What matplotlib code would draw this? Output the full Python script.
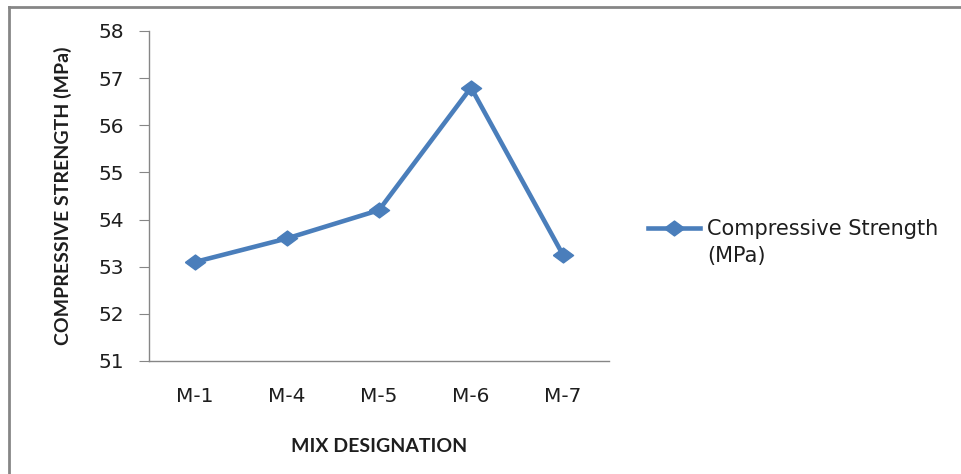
import matplotlib
matplotlib.use('Agg')
import matplotlib.pyplot as plt
from matplotlib.lines import Line2D

mixes = ['M-1', 'M-4', 'M-5', 'M-6', 'M-7']
strength = [53.1, 53.6, 54.2, 56.8, 53.25]
y_ticks = [51, 52, 53, 54, 55, 56, 57, 58]
series_name = 'Compressive Strength'
series_unit = '(MPa)'

plt.rcParams['font.family'] = ['DejaVu Sans']

W, H = 961, 474
fig = plt.figure(figsize=(W / 100, H / 100), dpi=100)
ax = fig.add_axes([149 / W, 1 - 361 / H, (609 - 149) / W, (361 - 31) / H])

blue = '#4a7ebb'
grey = '#868686'
txt = '#1e1e1e'
# wide diamond like the Excel marker in the reference
diamond = [(-1.35, 0), (0, 1), (1.35, 0), (0, -1), (-1.35, 0)]

ax.plot(range(len(mixes)), strength, color=blue, lw=3.3, marker=diamond,
        markersize=14.5, label=series_name)

ax.set_xlim(-0.5, len(mixes) - 0.5)
ax.set_ylim(51, 58)
ax.set_yticks(y_ticks)
ax.set_xticks(range(len(mixes)))
ax.set_xticklabels(mixes)

for side in ['top', 'right']:
    ax.spines[side].set_visible(False)
for side in ['left', 'bottom']:
    ax.spines[side].set_color(grey)
    ax.spines[side].set_linewidth(1)

ax.tick_params(axis='y', direction='out', length=7, color=grey,
               labelsize=14.5, pad=11, labelcolor=txt)
ax.tick_params(axis='x', length=0, labelsize=14.5, pad=19,
               labelcolor=txt)

ax.set_xlabel('MIX DESIGNATION', fontsize=14, fontweight='bold',
              family=['Lato', 'DejaVu Sans'], color=txt, labelpad=23)
ax.set_ylabel('COMPRESSIVE STRENGTH (MPa)', fontsize=14,
              fontweight='bold', family=['Lato', 'DejaVu Sans'],
              color=txt, labelpad=19)

leg = fig.legend(loc='center left', bbox_to_anchor=(648 / W, 1 - 229 / H),
                 frameon=False, fontsize=15, handlelength=2.5,
                 handletextpad=0.33, borderpad=0, borderaxespad=0,
                 labelcolor=txt)

# second line of the legend label sits under the first one
fig.canvas.draw()
bb = leg.get_texts()[0].get_window_extent()
fig.text(bb.x0 / W, (bb.y0 - 27 + bb.height / 2) / H, series_unit,
         fontsize=15, color=txt, va='center', ha='left')

# outer chart border (top and left edges visible)
fig.add_artist(Line2D([9 / W, 9 / W], [0, 1 - 6.5 / H], color=grey, lw=2))
fig.add_artist(Line2D([9 / W, 1], [1 - 6.5 / H, 1 - 6.5 / H], color=grey, lw=2))

fig.savefig('out.png', dpi=100)
